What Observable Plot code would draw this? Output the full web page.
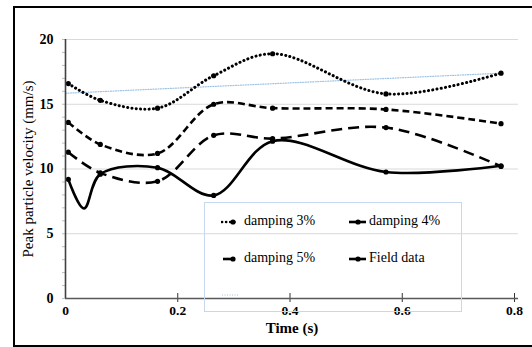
<!DOCTYPE html>
<html><head><meta charset="utf-8">
<script src="https://cdn.jsdelivr.net/npm/d3@7"></script>
<script src="https://cdn.jsdelivr.net/npm/@observablehq/plot@0.6"></script>
<style>
html,body{margin:0;padding:0;background:#fff;overflow:hidden;}
#wrap{position:relative;width:532px;height:347px;overflow:hidden;font-family:"Liberation Serif","Times New Roman",Times,"DejaVu Serif",serif;}
#chart{position:absolute;left:0;top:0;}
#chart svg, #chart text{font-family:"Liberation Serif","Times New Roman",Times,"DejaVu Serif",serif;}
#frame{position:absolute;left:13px;top:6px;width:540px;height:337px;border:2px solid #000;pointer-events:none;}
#legend{position:absolute;left:204px;top:202px;width:256px;height:108px;border:1px solid #c6d7ee;pointer-events:none;}
.item{position:absolute;font-size:14px;line-height:16px;color:#000;white-space:nowrap;font-family:"Liberation Serif","Times New Roman",Times,serif;}
.item svg{vertical-align:middle;margin-right:3px;}
</style></head><body>
<div id="wrap"><div id="chart"></div><div id="frame"></div><div id="legend"></div></div>
<script>
// Data
const times = [0.005, 0.062, 0.164, 0.264, 0.369, 0.571, 0.776];
const damping3 = [16.6, 15.3, 14.7, 17.2, 18.9, 15.8, 17.4];
const damping4 = [13.6, 11.9, 11.2, 15.0, 14.7, 14.6, 13.5];
const damping5 = [11.3, 9.7, 9.05, 12.6, 12.35, 13.2, 10.2];
const fieldTimes = [0.005, 0.033, 0.062, 0.164, 0.264, 0.369, 0.571, 0.776];
const fieldData = [9.2, 6.95, 9.6, 10.1, 7.96, 12.15, 9.77, 10.25];
const trendTimes = [0, 0.776];
const trendValues = [15.85, 17.4];
const seriesNames = ["damping 3%", "damping 4%", "damping 5%", "Field data"];
const xTicks = [0, 0.2, 0.4, 0.6, 0.8];
const xTickLabels = ["0", "0.2", "0.4", "0.6", "0.8"];
const yTicks = [0, 5, 10, 15, 20];

const FONT = '"Liberation Serif","Times New Roman",Times,"DejaVu Serif",serif';
const toRows = (ts, vs) => ts.map((t, i) => ({t, v: vs[i]}));
const dashes = ["0.1,4.2", "7,4", "11,6", null];
const seriesData = [
  toRows(times, damping3),
  toRows(times, damping4),
  toRows(times, damping5),
  toRows(fieldTimes, fieldData)
];
const trend = toRows(trendTimes, trendValues);

const lineMarks = seriesData.flatMap((rows, i) => [
  Plot.line(rows, {x: "t", y: "v", curve: "catmull-rom", stroke: "#000",
    strokeWidth: i === 0 ? 3 : 2.6, strokeDasharray: dashes[i],
    strokeLinecap: i === 0 ? "round" : "butt"}),
  Plot.dot(rows.filter((d, j) => !(i === 3 && j === 1)), {x: "t", y: "v", r: 2.6, fill: "#000", stroke: "none"})
]);

const chart = Plot.plot({
  width: 532,
  height: 347,
  marginLeft: 65,
  marginRight: 14,
  marginTop: 39,
  marginBottom: 49,
  style: {fontFamily: FONT, background: "transparent", color: "#000"},
  x: {domain: [0, 0.8], range: [65, 514]},
  y: {domain: [0, 20]},
  marks: [
    Plot.gridY(yTicks.filter(d => d > 0), {stroke: "#d9d9d9", strokeOpacity: 1, strokeWidth: 1}),
    Plot.axisY({ticks: d3.range(0, 21), tickSize: 3, text: null, stroke: "#bfbfbf", label: null}),
    Plot.axisY({ticks: yTicks, tickSize: 0, tickPadding: 12, fontWeight: "bold", fontSize: 14, fontFamily: FONT, label: null}),
    Plot.axisX({ticks: xTicks.filter(d => d > 0), tickSize: 9, dy: -5, text: null, stroke: "#333", label: null}),
    Plot.axisX({ticks: xTicks, tickFormat: d => xTickLabels[xTicks.indexOf(d)], tickSize: 0, tickPadding: 7, fontWeight: "bold", fontSize: 13.5, fontFamily: FONT, label: null}),
    Plot.line(trend, {x: "t", y: "v", stroke: "#9dc3e6", strokeWidth: 1.2, strokeDasharray: "1,1.5"}),
    ...lineMarks,
    Plot.ruleY([0], {stroke: "#595959", strokeWidth: 1.6}),
    Plot.ruleX([0], {stroke: "#404040", strokeWidth: 1.6}),
    Plot.text(["Peak particle velocity (mm/s)"], {frameAnchor: "left", textAnchor: "middle", lineAnchor: "middle", rotate: -90, dx: -37, fontSize: 15, fontFamily: FONT}),
    Plot.text(["Time (s)"], {frameAnchor: "bottom", textAnchor: "middle", lineAnchor: "middle", dy: 30, fontSize: 15, fontWeight: "bold", fontFamily: FONT})
  ]
});
document.getElementById("chart").append(chart);

// Legend
const legend = document.getElementById("legend");
const legendPos = [[16, 10], [144, 10], [16, 47], [144, 47]];
const legendSw = [
  '<line x1="1" y1="8" x2="16" y2="8" stroke="#000" stroke-width="2.6" stroke-dasharray="0.1,4" stroke-linecap="round"/><circle cx="12" cy="8" r="2.6"/>',
  '<line x1="0" y1="8" x2="17" y2="8" stroke="#000" stroke-width="2.6"/><circle cx="9" cy="8" r="2.6"/>',
  '<line x1="2" y1="8" x2="14" y2="8" stroke="#000" stroke-width="2.6"/><circle cx="12" cy="8" r="2.6"/>',
  '<line x1="0" y1="8" x2="17" y2="8" stroke="#000" stroke-width="2.6"/><circle cx="9" cy="8" r="2.6"/>'
];
seriesNames.forEach((name, i) => {
  const d = document.createElement("div");
  d.className = "item";
  d.style.left = legendPos[i][0] + "px";
  d.style.top = legendPos[i][1] + "px";
  d.innerHTML = `<svg width="${i % 2 ? 17 : 20}" height="16">${legendSw[i]}</svg>${name}`;
  legend.append(d);
});
const tr = document.createElement("div");
tr.className = "item";
tr.style.left = "17px";
tr.style.top = "83px";
tr.innerHTML = '<svg width="18" height="16"><line x1="0" y1="8" x2="17" y2="8" stroke="#9dc3e6" stroke-width="1.2" stroke-dasharray="1,1.5"/></svg>';
legend.append(tr);
</script>
</body></html>
